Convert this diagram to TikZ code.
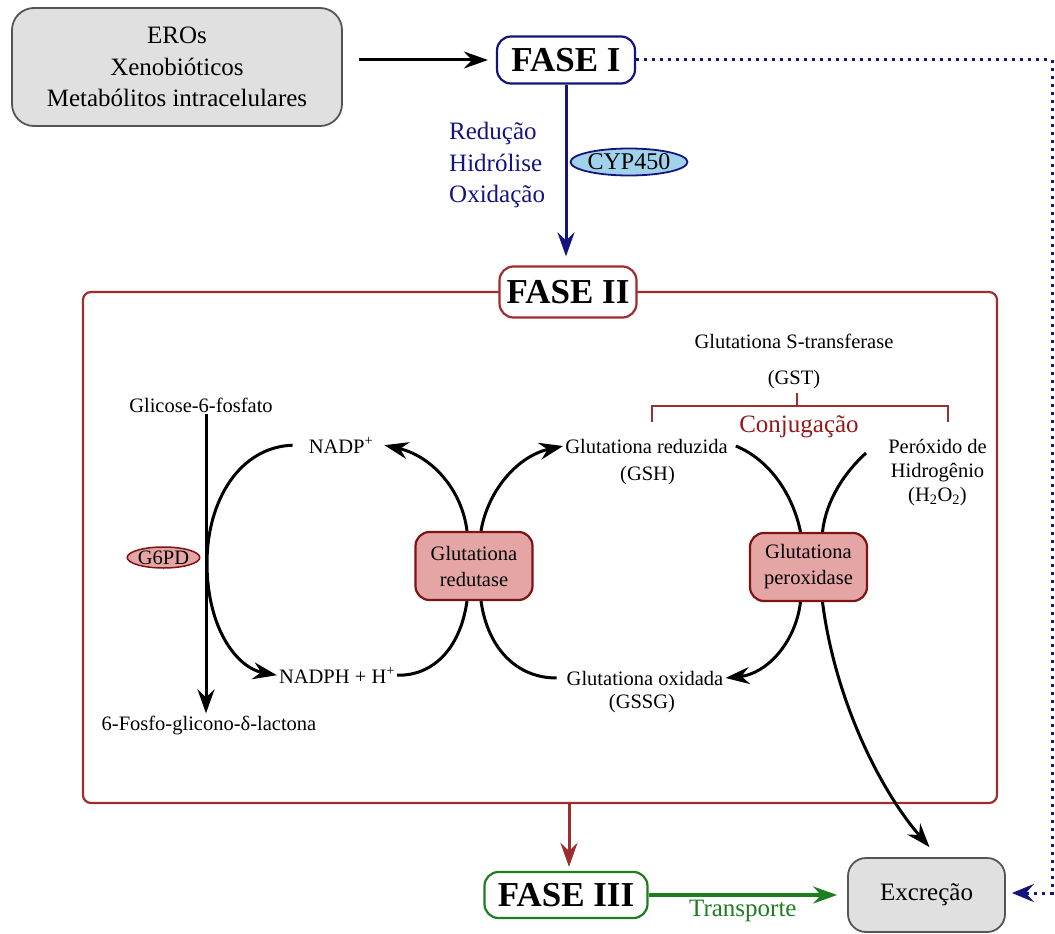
\documentclass[tikz,border=0pt]{standalone}
\usepackage{fontspec}
\setmainfont{Liberation Serif}
\usetikzlibrary{arrows.meta,shapes.geometric,calc}
\definecolor{navy}{RGB}{20,20,125}
\definecolor{framered}{RGB}{160,45,45}
\definecolor{conjred}{RGB}{150,25,25}
\definecolor{pinkfill}{RGB}{230,165,165}
\definecolor{pinkdraw}{RGB}{125,20,20}
\definecolor{fgreen}{RGB}{30,125,30}
\definecolor{boxgray}{RGB}{224,224,224}
\definecolor{boxedge}{RGB}{85,85,85}
\definecolor{cypfill}{RGB}{160,210,236}
\tikzset{
  big/.style={font=\fontsize{25}{31.5}\selectfont},
  small/.style={font=\fontsize{20.5}{26}\selectfont},
  lbl/.style={small, inner sep=2pt, anchor=base},
  fasebox/.style={draw, line width=2.2pt, rounded corners=14pt, fill=white,
     font=\fontsize{35}{40}\selectfont\bfseries, inner sep=0pt},
  graybox/.style={draw=boxedge, fill=boxgray, line width=1.8pt, rounded corners=22pt, big, align=center, inner sep=0pt},
  enzbox/.style={draw=pinkdraw, fill=pinkfill, line width=2.2pt, rounded corners=14pt, small,
     align=center, minimum width=117pt, minimum height=68pt, inner sep=0pt},
  tip/.style={-{Stealth[length=24pt,width=17pt,inset=8pt]}},
  arr/.style={tip, line width=3pt, black},
  curv/.style={line width=3pt, black},
  dotline/.style={draw=navy, line width=3pt, dash pattern=on 3pt off 5pt},
}
\begin{document}
\begin{tikzpicture}[x=1pt,y=-1pt]
\useasboundingbox (0,0) rectangle (1055,934);

% top part
\node[graybox, minimum width=330pt, minimum height=118pt] (src) at (177,67)
  {EROs\\Xenobióticos\\Metabólitos intracelulares};
\node[fasebox, draw=navy, minimum width=138pt, minimum height=47pt] (fase1) at (566,60) {FASE I};
\coordinate (a1) at ([xshift=16pt]src.east);
\draw[arr] (a1 |- fase1.west) -- ([xshift=-8pt]fase1.west);

\node[big, text=navy, align=left, anchor=north west, inner sep=0pt] (ops) at (449,122)
  {Redução\\Hidrólise\\Oxidação};
\node[draw=navy, fill=cypfill, ellipse, line width=1.8pt, inner sep=0pt,
      minimum width=96pt, minimum height=27pt, font=\fontsize{24}{26}\selectfont] (cyp) at (629,162) {CYP450};

% frame and phase II
\node[draw=framered, line width=2.2pt, rounded corners=8pt, minimum width=914pt, minimum height=511pt, inner sep=0pt] (frame) at (540,547.5) {};
\node[fasebox, draw=framered, minimum width=137pt, minimum height=51pt] (fase2) at (568,292) {FASE II};
\draw[tip, draw=navy, line width=3pt] (fase1.south) -- ([yshift=9pt]fase2.north -| fase1.south);

% phase III and excretion
\node[fasebox, draw=fgreen, minimum width=163pt, minimum height=46pt] (fase3) at (566,895) {FASE III};
\node[graybox, minimum width=157pt, minimum height=74pt, rounded corners=18pt] (excr) at (926.5,895) {Excreção};
\coordinate (r1) at ($(frame.south -| fase3.north)+(3,0)$);
\draw[tip, draw=framered, line width=3pt] (r1) -- ([yshift=4pt]r1 |- fase3.north);
\draw[tip, draw=fgreen, line width=3.2pt] (fase3.east) -- node[below=4pt, big, text=fgreen, inner sep=0pt] (transp) {Transporte} ([xshift=-10pt]excr.west);
\coordinate (c1) at (1052,60);
\coordinate (c2) at (1052,893);
\draw[dotline] (fase1.east) -- (c1) -- (c2) -- ([xshift=22pt]c2 -| excr.east);
\draw[-{Stealth[length=22pt,width=18pt,inset=8pt]}, navy, line width=3pt] ([xshift=22pt]c2 -| excr.east) -- ([xshift=6pt]c2 -| excr.east);

% GST / conjugation
\node[lbl] (gst1) at (794,348) {Glutationa S-transferase};
\node[lbl] (gst2) at (794,384) {(GST)};
\draw[framered, line width=2.2pt] (652,422) -- (652,406) -- (948,406) -- (948,422);
\draw[framered, line width=2.2pt] (797,406) -- (797,393);
\node[big, text=conjred, anchor=base, inner sep=0pt] (conj) at (799,432) {Conjugação};

% pentose branch
\node[lbl] (glic) at (201,412) {Glicose-6-fosfato};
\node[lbl] (lact) at (209,730) {6-Fosfo-glicono-δ-lactona};
\draw[arr] ([xshift=5pt]glic.south) -- ([xshift=-3pt]lact.north);
\node[draw=pinkdraw, fill=pinkfill, ellipse, line width=1.5pt, inner sep=0pt,
      minimum width=69pt, minimum height=21pt, small] (g6pd) at (163.5,557.5) {G6PD};

\node[lbl] (nadp) at (341,453) {NADP\textsuperscript{+}};
\node[lbl] (nadph) at (337,683) {NADPH + H\textsuperscript{+}};

\node[enzbox] (gr) at (474,566) {Glutationa\\redutase};
\node[enzbox] (gpx) at (808.5,567) {Glutationa\\peroxidase};

\node[lbl] (gsh1) at (646.5,453) {Glutationa reduzida};
\node[lbl] (gsh2) at (647.5,480) {(GSH)};
\node[lbl] (gssg1) at (645,685) {Glutationa oxidada};
\node[lbl] (gssg2) at (642,708) {(GSSG)};

\node[lbl] (per1) at (937.5,453) {Peróxido de};
\node[lbl] (per2) at (937.5,477) {Hidrogênio};
\node[lbl] (per3) at (937.5,501) {(H\textsubscript{2}O\textsubscript{2})};
\coordinate (h2o2) at (866,453);

% curves
\draw[arr] ([xshift=-14pt]nadp.west) .. controls (240,447) and (207,500) .. (207,563)
   .. controls (207,630) and (238,668) .. (nadph.west);
\draw[arr] ([xshift=-7pt]gr.north) .. controls (462,490) and (432,456) .. ([xshift=9pt]nadp.east);
\draw[arr] ([xshift=7pt]gr.north) .. controls (488,490) and (518,456) .. (gsh1.west);
\draw[curv] ([xshift=-7pt]gr.south) .. controls (460,650) and (432,676) .. (nadph.east);
\draw[curv] ([xshift=7pt]gr.south) .. controls (488,650) and (518,678) .. ([xshift=-8pt]gssg1.west);

\draw[curv] ([xshift=6pt]gsh1.east) .. controls (770,460) and (793,495) .. ([xshift=-8pt]gpx.north);
\draw[curv] (h2o2) .. controls (845,472) and (826,500) .. ([xshift=14pt]gpx.north);
\draw[arr] ([xshift=-8pt]gpx.south) .. controls (795,645) and (765,674) .. (gssg1.east);
\draw[arr] ([xshift=14pt]gpx.south) .. controls (835,700) and (880,790) .. ([xshift=3pt,yshift=10pt]excr.north);
\end{tikzpicture}
\end{document}
